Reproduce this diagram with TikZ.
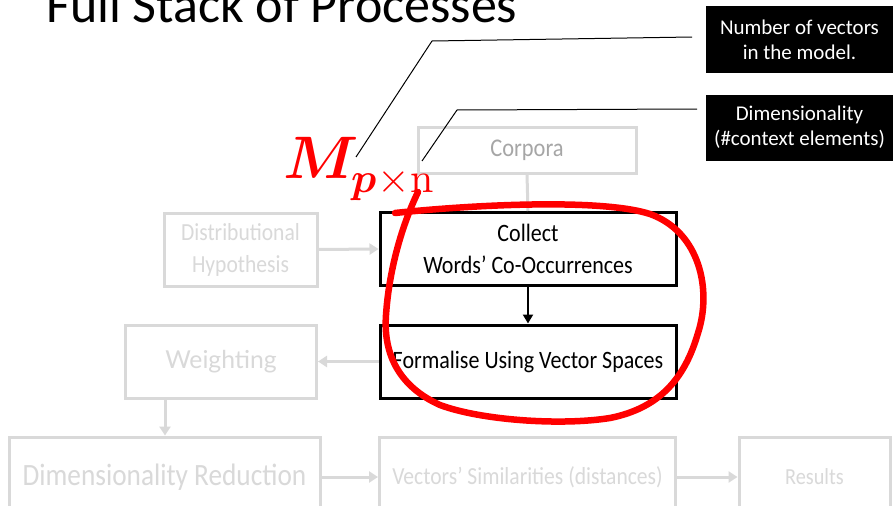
\documentclass[tikz,border=0pt]{standalone}
\usepackage{fontspec}
\usepackage{unicode-math}
\setmainfont{Carlito}
\newfontfamily\narrowfont[FakeStretch=0.88]{Carlito}
\newfontfamily\latofont{Lato}
\usetikzlibrary{arrows.meta}
\definecolor{faint}{HTML}{D9D9D9}
\definecolor{midgray}{HTML}{A6A6A6}
\definecolor{hired}{HTML}{FF0000}
\tikzset{
  fadebox/.style={draw=faint, line width=3pt, rectangle, inner sep=0pt, align=center, text=faint},
  activebox/.style={draw=black, line width=3pt, rectangle, inner sep=0pt, align=center, text=black},
  fadearrow/.style={draw=faint, line width=3pt, -{Triangle[length=9pt,width=11pt]}},
  activearrow/.style={draw=black, line width=2.2pt, -{Triangle[length=9pt,width=10pt]}},
  notebox/.style={fill=black, text=white, inner sep=0pt, align=center, font=\fontsize{21}{25}\selectfont},
  leader/.style={draw=black, line width=1pt},
}
\begin{document}
\begin{tikzpicture}[x=1pt,y=-1pt]
\useasboundingbox (0,0) rectangle (895,506);
\fill[white] (0,0) rectangle (895,506);

% title
\node[anchor=base west, inner sep=0pt, font=\fontsize{52}{52}\selectfont] (title) at (46,22) {Full Stack of Processes};

% process boxes
\node[fadebox, minimum width=218pt, minimum height=46pt, text=midgray, font=\narrowfont\fontsize{25.5}{28}\selectfont] (corpora) at (527,150) {Corpora};
\node[activebox, minimum width=296pt, minimum height=73pt, font=\narrowfont\fontsize{25}{32}\selectfont] (collect) at (528,249) {Collect\\Words’ Co-Occurrences};
\node[activebox, minimum width=296pt, minimum height=73pt, font=\narrowfont\fontsize{25}{28}\selectfont] (formal) at (528,361.5) {Formalise Using Vector Spaces};
\node[fadebox, minimum width=153pt, minimum height=73pt, font=\narrowfont\fontsize{24.5}{32}\selectfont] (distrib) at (240.5,249.5) {Distributional\\Hypothesis};
\node[fadebox, minimum width=191pt, minimum height=73pt, font=\latofont\fontsize{24.7}{30}\selectfont] (weight) at (221,361.5) {Weighting};
\node[fadebox, minimum width=311pt, minimum height=80pt, font=\narrowfont\fontsize{31}{34}\selectfont] (dimred) at (164.5,477) {Dimensionality Reduction};
\node[fadebox, minimum width=296pt, minimum height=80pt, font=\narrowfont\fontsize{24.5}{28}\selectfont] (vecsim) at (527.5,477) {Vectors’ Similarities (distances)};
\node[fadebox, minimum width=151pt, minimum height=80pt, font=\narrowfont\fontsize{23}{28}\selectfont] (results) at (814.5,477) {Results};

% connectors
\draw[draw=faint, line width=3pt] (corpora.south) -- (collect.north);
\draw[activearrow] (collect.south) -- (formal.north);
\draw[fadearrow] (distrib.east) -- (collect.west);
\draw[fadearrow] (formal.west) -- (weight.east);
\draw[fadearrow] ([xshift=41pt]weight.south west) -- ([xshift=41pt]weight.south west |- dimred.north);
\draw[fadearrow] (dimred.east |- vecsim.west) -- (vecsim.west);
\draw[fadearrow] (vecsim.east) -- (results.west);

% annotation notes
\node[notebox, minimum width=187pt, minimum height=67pt] (note1) at (799.5,39.5) {Number of vectors\\in the model.};
\node[notebox, minimum width=187pt, minimum height=66pt] (note2) at (799.5,127.5) {Dimensionality\\(\#context elements)};

% matrix symbol
\node[anchor=base west, inner sep=0pt, text=hired, font=\fontsize{60}{60}\selectfont] (mat) at (283,178) {$\symbfit{M}_{\symbfit{p}\times\symup{n}}$};

% leader lines
\coordinate (m1) at (356,157);
\coordinate (m2) at (422,161);
\draw[leader] (m1) -- (432,41) -- (692,37);
\draw[leader] (m2) -- (457,110) -- (697,109);

% hand-drawn loop
\draw[hired, line width=6.5pt, line cap=round, line join=round]
  (395,213) .. controls (470,205) and (600,198) .. (650,214)
  .. controls (700,232) and (712,290) .. (698,333)
  .. controls (685,378) and (660,408) .. (610,418)
  .. controls (560,426) and (480,420) .. (440,405)
  .. controls (400,387) and (383,355) .. (386,315)
  .. controls (389,270) and (402,225) .. (418,192);
\end{tikzpicture}
\end{document}
